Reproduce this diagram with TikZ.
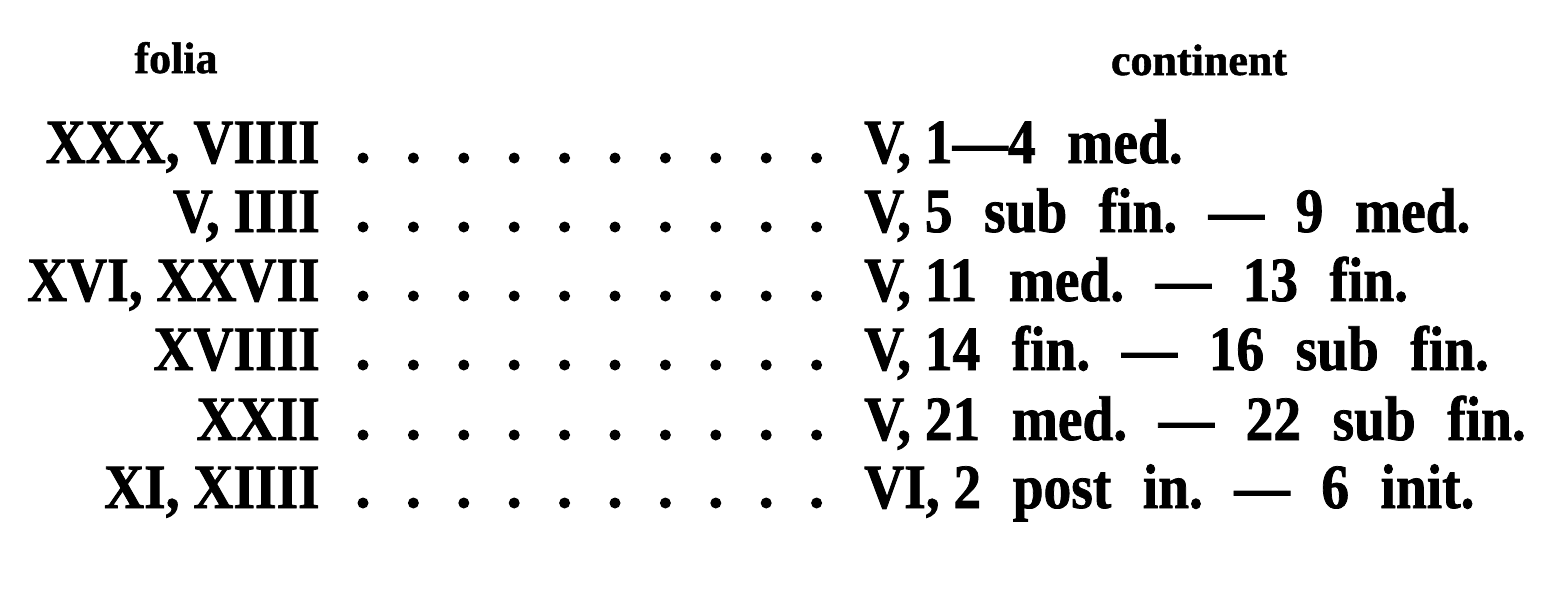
\documentclass[tikz,border=0pt]{standalone}
\usepackage{fontspec}
\setmainfont{Liberation Serif}
\newfontfamily\tabfont[FakeStretch=0.88,FakeBold=1.2]{Liberation Serif}
\newfontfamily\headfont[FakeBold=1.2]{Liberation Serif}
\newcommand\wsp{\hspace{0.5em}}
\begin{document}
\begin{tikzpicture}[x=1pt,y=-1pt,
  head/.style={inner sep=0pt,font=\headfont\fontsize{44}{48}\selectfont\bfseries},
  lcol/.style={anchor=base east,inner sep=0pt,font=\tabfont\fontsize{63}{70}\selectfont\bfseries},
  rcol/.style={anchor=base west,inner sep=0pt,font=\tabfont\fontsize{63}{70}\selectfont\bfseries},
  leader/.style={fill=black}]
\useasboundingbox (0,0) rectangle (1561,597);
\node[head,anchor=base] (hf) at (176,73) {folia};
\node[head,anchor=base] (hc) at (1199,75) {continent};
\foreach \y/\l/\r [count=\i] in {
  163/{XXX, VIIII}/{V, 1—4\wsp med.},
  232/{V, IIII}/{V, 5\wsp sub\wsp fin.\wsp —\wsp 9\wsp med.},
  301/{XVI, XXVII}/{V, 11\wsp med.\wsp —\wsp 13\wsp fin.},
  370/{XVIIII}/{V, 14\wsp fin.\wsp —\wsp 16\wsp sub\wsp fin.},
  440/{XXII}/{V, 21\wsp med.\wsp —\wsp 22\wsp sub\wsp fin.},
  508/{XI, XIIII}/{VI, 2\wsp post\wsp in.\wsp —\wsp 6\wsp init.}}{
  \node[lcol] (l\i) at (320,\y) {\l};
  \node[rcol] (r\i) at (864,\y) {\r};
  \foreach \k in {0,...,9}{
    \fill[leader] ({363+50.4*\k},{\y-5}) circle (5.5);
  }
}
\end{tikzpicture}
\end{document}
